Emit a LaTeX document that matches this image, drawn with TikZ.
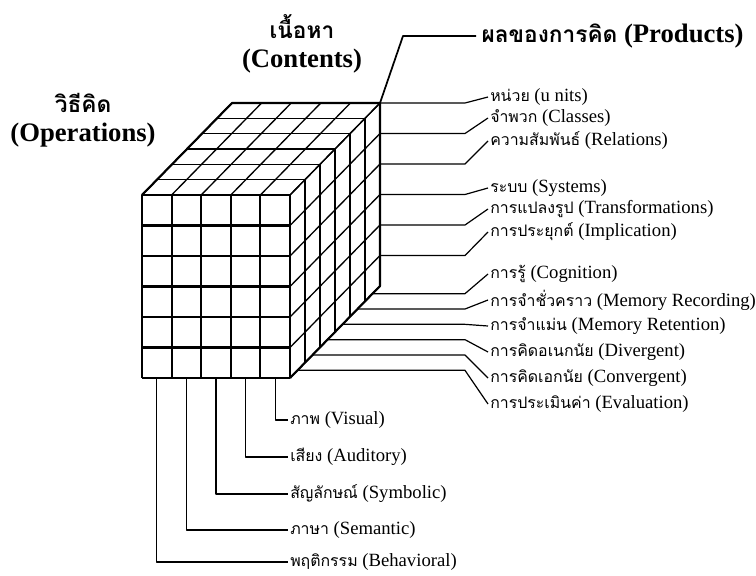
\documentclass[tikz,border=0pt]{standalone}
\usepackage{fontspec}
\setmainfont{Liberation Serif}
\newfontfamily\thaifont[Script=Thai,Scale=0.85]{Loma}
\newcommand{\thx}[1]{{\thaifont #1}}
\tikzset{
  front/.style={line width=1.6pt},
  face/.style={line width=1pt},
  link/.style={line width=0.9pt},
  lbl/.style={anchor=west,inner sep=1.5pt,font=\fontsize{14}{16}\selectfont},
  ttl/.style={align=center,inner sep=2pt,font=\fontsize{20}{22}\selectfont\bfseries}
}

\begin{document}
\begin{tikzpicture}[x=0.75pt,y=-0.75pt,line join=round]
\useasboundingbox (0,0) rectangle (756,575);
\foreach \i in {0,...,5} \draw[face] (142+29.6*\i,195) -- ++(90,-92);
\foreach \k in {0,...,6} \draw[face] (142+15*\k,195-15.333*\k) -- ++(148,0);
\foreach \k in {0,...,6} \draw[face] (290+15*\k,195-15.333*\k) -- ++(0,183);
\foreach \j in {0,...,6} \draw[face] (290,195+30.5*\j) -- ++(90,-92);
\foreach \i in {0,...,5} \draw[front] (142+29.6*\i,195) -- ++(0,183);
\foreach \j in {0,...,6} \draw[front] (142,195+30.5*\j) -- ++(148,0);
\draw[front] (142,195) -- (232,103) -- (380,103) -- (380,286) -- (290,378);
\coordinate (tbr) at (380,103);
\coordinate (bend) at (465,0);
\foreach \j in {1,...,6} {
  \coordinate (p\j) at (380,{72.5+30.5*\j});
  \coordinate (o\j) at ({387.5-15*\j},{278.33+15.333*\j});
}
\foreach \j in {1,...,5} \coordinate (c\j) at ({304.8-29.6*\j},378);

\node[ttl] (contents) at (302,44) {\thx{เนื้อหา}\\(Contents)};
\node[ttl] (operations) at (83,120) {\thx{วิธีคิด}\\(Operations)};
\node[ttl,anchor=west,inner sep=4pt] (products) at (476,36) {\thx{ผลของการคิด} (Products)};
\draw[line width=1.3pt] (tbr) -- ++(23,-67) -- (products.west);

\node[lbl] (units) at (488,97) {\thx{หน่วย} (u nits)};
\node[lbl] (classes) at (488,118) {\thx{จำพวก} (Classes)};
\node[lbl] (relations) at (488,141) {\thx{ความสัมพันธ์} (Relations)};
\node[lbl] (systems) at (488,188) {\thx{ระบบ} (Systems)};
\node[lbl] (transform) at (488,209) {\thx{การแปลงรูป} (Transformations)};
\node[lbl] (implication) at (488,232) {\thx{การประยุกต์} (Implication)};
\node[lbl] (cognition) at (488,274) {\thx{การรู้} (Cognition)};
\node[lbl] (recording) at (488,300) {\thx{การจำชั่วคราว} (Memory Recording)};
\node[lbl] (retention) at (488,326) {\thx{การจำแม่น} (Memory Retention)};
\node[lbl] (divergent) at (488,352) {\thx{การคิดอเนกนัย} (Divergent)};
\node[lbl] (convergent) at (488,378) {\thx{การคิดเอกนัย} (Convergent)};
\node[lbl] (evaluation) at (488,404) {\thx{การประเมินค่า} (Evaluation)};
\node[lbl] (visual) at (288,420) {\thx{ภาพ} (Visual)};
\node[lbl] (auditory) at (288,457) {\thx{เสียง} (Auditory)};
\node[lbl] (symbolic) at (288,494) {\thx{สัญลักษณ์} (Symbolic)};
\node[lbl] (semantic) at (288,530) {\thx{ภาษา} (Semantic)};
\node[lbl] (behavioral) at (288,562) {\thx{พฤติกรรม} (Behavioral)};

\foreach \a/\b in {p1/units,p2/classes,p3/relations,p4/systems,p5/transform,p6/implication,o1/cognition,o2/recording,o3/retention,o4/divergent,o5/convergent,o6/evaluation}
  \draw[link] (\a) -- (\a -| bend) -- (\b.west);
\foreach \a/\b in {c1/visual,c2/auditory,c3/symbolic,c4/semantic,c5/behavioral}
  \draw[link] (\a) |- (\b.west);
\end{tikzpicture}
\end{document}
